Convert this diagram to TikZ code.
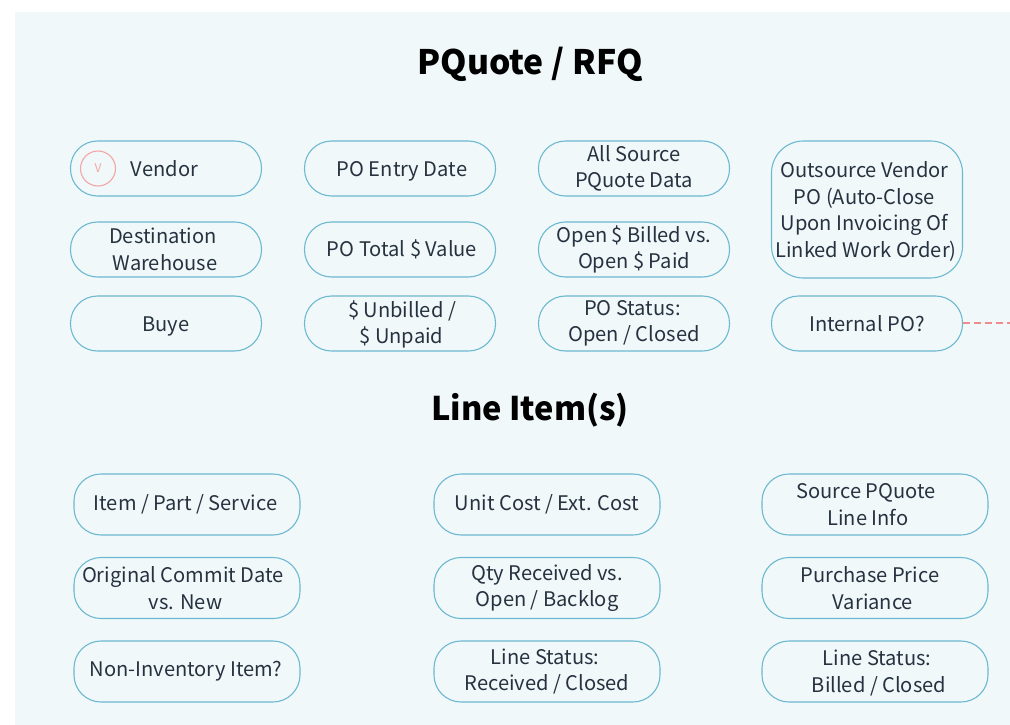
\documentclass[tikz,border=0pt]{standalone}
\usepackage{fontspec}
\setmainfont{Noto Sans CJK SC}
\usepackage{tikz}
\usetikzlibrary{positioning}
\definecolor{panelbg}{HTML}{F0F8FA}
\definecolor{fieldline}{HTML}{6DB9D2}
\definecolor{fieldtext}{HTML}{26323F}
\definecolor{dashred}{HTML}{F28C8C}
\definecolor{badgered}{HTML}{F4A6A6}

\begin{document}
\begin{tikzpicture}
    [
    x = 1pt,
    y = -1pt,
    every node/.style = {text=fieldtext},
    field/.style      = {draw=fieldline, line width=1.1pt, rounded corners=27pt, align=center,
                         inner sep=0pt, outer sep=0pt, font=\fontsize{20.1}{26.5}\selectfont},
    upper/.style      = {field, minimum width=191pt, minimum height=55pt},
    lower/.style      = {field, minimum width=226pt, minimum height=61pt},
    single/.style     = {text height=20pt, text depth=4pt},
    heading/.style    = {font=\fontsize{33.7}{40}\selectfont\bfseries, text=black}
    ]
    \useasboundingbox (0,0) rectangle (1010,725);
    \fill [panelbg] (15,12) rectangle (1010,725);

    \node [heading] (pquote) at (530,64.5) {PQuote / RFQ};
    \node [heading, font=\fontsize{32.6}{40}\selectfont\bfseries] (lineitems) at (530,410.5) {Line Item(s)};

    % upper block
    \node [upper, single] (vendor) at (166,168.5) {\hspace*{-3pt}Vendor};
    \node [upper, below=26pt of vendor] (warehouse) {\hspace*{-6pt}Destination\\\hspace*{-2pt}Warehouse};
    \node [upper, single, below=19pt of warehouse] (buyer) {Buye};
    \node [upper, single, right=43pt of vendor] (entrydate) {\hspace*{4pt}PO Entry Date};
    \node [upper, right=43pt of warehouse] (totalvalue) {\hspace*{4pt}PO Total \$ Value};
    \node [upper, text height=45.5pt, right=43pt of buyer] (unbilled) {\hspace*{4pt}\$ Unbilled /\\\hspace*{3pt}\$ Unpaid};
    \node [upper, right=43pt of entrydate] (sourcedata) {All Source\\PQuote Data};
    \node [upper, right=43pt of totalvalue] (openbilled) {Open \$ Billed vs.\\Open \$ Paid};
    \node [upper, right=43pt of unbilled] (postatus) {\hspace*{-3pt}PO Status:\\Open / Closed};
    \node [upper, minimum height=137pt, rounded corners=32pt, text height=99pt] (outsource) at (867,209.5)
        {\hspace*{-5pt}Outsource Vendor\\\hspace*{-5pt}PO (Auto-Close\\\hspace*{-5pt}Upon Invoicing Of\\\hspace*{-2pt}Linked Work Order)};
    \node [upper, right=42pt of postatus] (internal) {Internal PO?};

    % vendor badge
    \node [circle, draw=badgered, line width=1.1pt, minimum size=35pt, inner sep=0pt,
        text=badgered, font=\fontsize{12}{12}\selectfont] (badge) at (98,168.5) {V};

    % line items
    \node [lower] (item) at (187,504.5) {\hspace*{-3pt}Item / Part / Service};
    \node [lower, below=22.5pt of item] (commit) {\hspace*{-8pt}Original Commit Date\\\hspace*{-3pt}vs. New};
    \node [lower, below=22.5pt of commit] (noninv) {\hspace*{-2pt}Non-Inventory Item?};
    \node [lower] (unitcost) at (547,504.5) {Unit Cost / Ext. Cost};
    \node [lower, below=22.5pt of unitcost] (qty) {Qty Received vs.\\Open / Backlog};
    \node [lower, below=22.5pt of qty] (received) {\hspace*{-4pt}Line Status:\\Received / Closed};
    \node [lower] (sourceline) at (875,504.5) {\hspace*{-18pt}Source PQuote\\\hspace*{-14pt}Line Info};
    \node [lower, below=22.5pt of sourceline] (variance) {\hspace*{-10pt}Purchase Price\\\hspace*{-4pt}Variance};
    \node [lower, text height=45pt, below=22.5pt of variance] (billed) {\hspace*{4pt}Line Status:\\\hspace*{8pt}Billed / Closed};

    % free end
    \coordinate (offpage) at (1010,323);
    \draw [dashred, line width=1.3pt, dash pattern=on 7pt off 4pt] (internal.east |- offpage) -- (offpage);
\end{tikzpicture}
\end{document}
